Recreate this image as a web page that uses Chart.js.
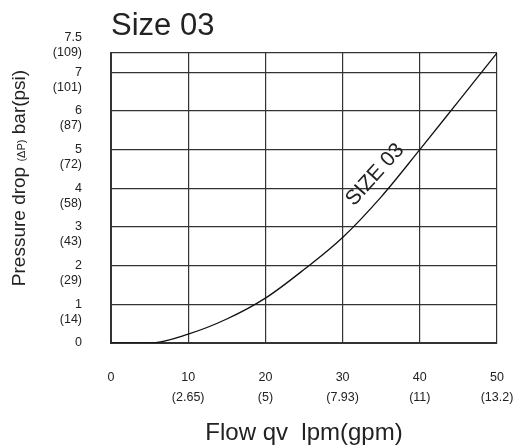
<!DOCTYPE html>
<html><head><meta charset="utf-8">
<script src="https://cdn.jsdelivr.net/npm/chart.js@4"></script>
<style>html,body{margin:0;padding:0;background:#fff}</style>
</head><body>
<canvas id="c" width="520" height="448"></canvas>
<script>
// flow (lpm) vs pressure drop (bar)
const flowLpm=[0,5,10,15,20,25,30,35,40,45,50];
const dropBar=[0,0,0.23,0.62,1.16,1.9,2.73,3.78,5.0,6.25,7.5];
const xTicks=[0,10,20,30,40,50];
const xGpm=['','(2.65)','(5)','(7.93)','(11)','(13.2)'];
const yTicks=[0,1,2,3,4,5,6,7,7.5];
const yPsi=['','(14)','(29)','(43)','(58)','(72)','(87)','(101)','(109)'];
const chartTitle='Size 03';
const seriesName='SIZE 03';
const labelAt={x:34.2,y:4.35};

const FONT='"Liberation Sans", Arial, sans-serif';
const INK='#222';
const GRID='#333';

const titlePlugin={id:'titleText',afterDraw(ch){
  const c=ch.ctx; c.save();
  c.font='31px '+FONT; c.fillStyle=INK; c.textBaseline='alphabetic'; c.textAlign='left';
  c.fillText(chartTitle,ch.chartArea.left,35);
  // y axis title, with a smaller (ΔP)
  const parts=[['Pressure drop ',19],['(ΔP)',11],[' bar(psi)',19]];
  let w=0; parts.forEach(p=>{c.font=p[1]+'px '+FONT; w+=c.measureText(p[0]).width;});
  c.translate(18,178); c.rotate(-Math.PI/2);
  let x=-w/2;
  parts.forEach(p=>{c.font=p[1]+'px '+FONT; c.fillText(p[0],x,6.5); x+=c.measureText(p[0]).width;});
  c.restore();
}};

const seriesLabel={id:'seriesLabel',afterDatasetsDraw(ch){
  const c=ch.ctx, xs=ch.scales.x, ys=ch.scales.y;
  c.save();
  c.translate(xs.getPixelForValue(labelAt.x),ys.getPixelForValue(labelAt.y));
  c.rotate(-48*Math.PI/180);
  c.font='21px '+FONT; c.fillStyle=INK; c.textAlign='center'; c.textBaseline='middle';
  c.fillText(seriesName,0,0);
  c.restore();
}};

new Chart(document.getElementById('c'),{
  type:'line',
  data:{datasets:[{label:seriesName,data:flowLpm.map((f,i)=>({x:f,y:dropBar[i]})),
    borderColor:'#111',borderWidth:1.3,pointRadius:0,cubicInterpolationMode:'monotone',fill:false}]},
  options:{
    responsive:false,animation:false,devicePixelRatio:1,
    layout:{padding:{top:53,right:23,left:0,bottom:0}},
    plugins:{legend:{display:false},tooltip:{enabled:false}},
    scales:{
      x:{type:'linear',min:0,max:50,
        afterBuildTicks:s=>{s.ticks=xTicks.map(v=>({value:v}));},
        afterFit:s=>{s.height=105; s.paddingLeft=0; s.paddingRight=0;},
        ticks:{padding:25,color:INK,font:{family:FONT,size:12.5,lineHeight:1.6},maxRotation:0,autoSkip:false,
          callback:(v)=>{const i=xTicks.indexOf(v); return v===0?'0':[String(v),xGpm[i]];}},
        grid:{color:GRID,lineWidth:1.2,drawTicks:false},
        border:{display:true,color:GRID,width:2},
        title:{display:true,text:'Flow qv  lpm(gpm)',color:INK,font:{family:FONT,size:24},padding:{top:0,bottom:0}}
      },
      y:{type:'linear',min:0,max:7.5,
        afterBuildTicks:s=>{s.ticks=yTicks.map(v=>({value:v}));},
        afterFit:s=>{s.width=111; s.paddingTop=0; s.paddingBottom=0;},
        ticks:{padding:29,color:INK,font:{family:FONT,size:12.5,lineHeight:1.2},autoSkip:false,
          callback:(v)=>{const i=yTicks.indexOf(v);
            if(v===0) return '0';
            if(v===7.5) return ['7.5',yPsi[i],''];
            return ['',String(v),yPsi[i]];}},
        grid:{color:GRID,lineWidth:1.2,drawTicks:false},
        border:{display:true,color:GRID,width:2}
      }
    }
  },
  plugins:[titlePlugin,seriesLabel]
});
</script>
</body></html>
